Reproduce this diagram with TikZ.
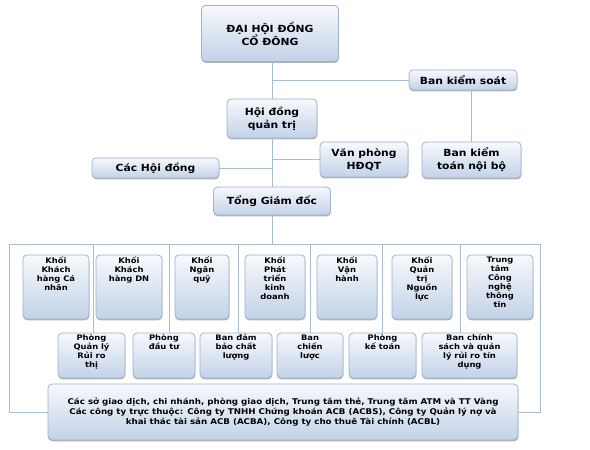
\documentclass[tikz,border=0pt]{standalone}
\usepackage{fontspec}
\setmainfont{DejaVu Sans}[FakeStretch=1.1]
\usetikzlibrary{shadows}
\definecolor{boxtop}{HTML}{F7F9FC}
\definecolor{boxbot}{HTML}{C2D2E8}
\definecolor{boxline}{HTML}{9DB2D0}
\definecolor{conn}{HTML}{A8BCD9}
\newcommand{\topbox}[3]{\parbox[c][#1][t]{#2}{\centering\vspace*{1.5pt}#3}}
\tikzset{
  bx/.style={rounded corners=4pt, draw=boxline, line width=0.8pt,
    top color=boxtop, bottom color=boxbot, inner sep=0pt,
    drop shadow={shadow xshift=0.3pt, shadow yshift=-1.3pt, fill=black!50, opacity=0.6},
    font=\bfseries, align=center},
  bigtxt/.style={font=\fontsize{9.8}{13}\selectfont\bfseries},
  smalltxt/.style={font=\fontsize{7.6}{9}\selectfont\bfseries},
  cn/.style={draw=conn, line width=0.9pt}
}
\begin{document}
\begin{tikzpicture}[x=1pt,y=-1pt]
\useasboundingbox[fill=white] (0,0) rectangle (590,450);
% top part
\node[bx,bigtxt,minimum width=137pt,minimum height=56pt] (dh) at (270,33.5) {ĐẠI HỘI ĐỒNG\\CỔ ĐÔNG};
\node[bx,bigtxt,minimum width=90pt,minimum height=39pt] (hd) at (272,118.5) {Hội đồng\\quản trị};
\node[bx,bigtxt,minimum width=108pt,minimum height=20pt] (bks) at (463,80) {Ban kiểm soát};
\node[bx,bigtxt,minimum width=99pt,minimum height=36pt] (bkt) at (471.5,160) {Ban kiểm\\toán nội bộ};
\node[bx,bigtxt,minimum width=88pt,minimum height=35pt] (vp) at (364,159.5) {Văn phòng\\HĐQT};
\node[bx,bigtxt,minimum width=127pt,minimum height=20pt] (chd) at (155.5,168) {Các Hội đồng};
\node[bx,bigtxt,minimum width=117pt,minimum height=28pt] (tgd) at (272,201) {Tổng Giám đốc};
% bus coordinates
\coordinate (bus) at (272,244);
\coordinate (bl) at (9,244);
\coordinate (br) at (540,244);
\coordinate (b1) at (93,244);
\coordinate (b2) at (169,244);
\coordinate (b3) at (238,244);
\coordinate (b4) at (310,244);
\coordinate (b5) at (382,244);
\coordinate (b6) at (460,244);
% connectors (drawn before the lower boxes)
\draw[cn] (dh.south -| hd.north) -- (hd.north);
\draw[cn] (bks.west) -- (bks.west -| hd.north);
\draw[cn] (bkt.north) -- (bkt.north |- bks.south);
\draw[cn] (vp.west) -- (vp.west -| hd.south);
\draw[cn] (chd.east) -- (chd.east -| hd.south);
\draw[cn] (hd.south) -- (tgd.north);
\draw[cn] (tgd.south) -- (bus);
\draw[cn] (bl) -- (br);
% second-level boxes
\node[bx,smalltxt,minimum width=66pt,minimum height=64pt] (k1) at (56,287) {\topbox{64pt}{64pt}{Khối\\Khách\\hàng Cá\\nhân}};
\node[bx,smalltxt,minimum width=66pt,minimum height=64pt] (k2) at (129,287) {\topbox{64pt}{64pt}{Khối\\Khách\\hàng DN}};
\node[bx,smalltxt,minimum width=54pt,minimum height=64pt] (k3) at (202,287) {\topbox{64pt}{52pt}{Khối\\Ngân\\quỹ}};
\node[bx,smalltxt,minimum width=60pt,minimum height=64pt] (k4) at (275,287) {\topbox{64pt}{58pt}{Khối\\Phát\\triển\\kinh\\doanh}};
\node[bx,smalltxt,minimum width=60pt,minimum height=64pt] (k5) at (347,287) {\topbox{64pt}{58pt}{Khối\\Vận\\hành}};
\node[bx,smalltxt,minimum width=60pt,minimum height=64pt] (k6) at (422,287) {\topbox{64pt}{58pt}{Khối\\Quản\\trị\\Nguồn\\lực}};
\node[bx,smalltxt,minimum width=66pt,minimum height=64pt] (k7) at (500,287) {\topbox{64pt}{64pt}{Trung\\tâm\\Công\\nghệ\\thông\\tin}};
% third row
\node[bx,smalltxt,minimum width=67pt,minimum height=45pt] (p1) at (91.5,355.5) {\topbox{45pt}{65pt}{Phòng\\Quản lý\\Rủi ro\\thị}};
\node[bx,smalltxt,minimum width=62pt,minimum height=45pt] (p2) at (164,355.5) {\topbox{45pt}{60pt}{Phòng\\đầu tư}};
\node[bx,smalltxt,minimum width=72pt,minimum height=45pt] (p3) at (236,355.5) {\topbox{45pt}{70pt}{Ban đảm\\bảo chất\\lượng}};
\node[bx,smalltxt,minimum width=66pt,minimum height=45pt] (p4) at (310,355.5) {\topbox{45pt}{64pt}{Ban\\chiến\\lược}};
\node[bx,smalltxt,minimum width=67pt,minimum height=45pt] (p5) at (382.5,355.5) {\topbox{45pt}{65pt}{Phòng\\kế toán}};
\node[bx,smalltxt,minimum width=95pt,minimum height=45pt] (p6) at (469.5,355.5) {\topbox{45pt}{93pt}{Ban chính\\sách và quản\\lý rủi ro tín\\dụng}};
% bottom box
\node[bx,font=\fontsize{7.9}{10}\selectfont\bfseries,minimum width=470pt,minimum height=56pt] (bot) at (283,412) {Các sở giao dịch, chi nhánh, phòng giao dịch, Trung tâm thẻ, Trung tâm ATM và TT Vàng\\Các công ty trực thuộc: Công ty TNHH Chứng khoán ACB (ACBS), Công ty Quản lý nợ và\\khai thác tài sản ACB (ACBA), Công ty cho thuê Tài chính (ACBL)};
% drops from bus
\draw[cn] (b1) -- (b1 |- p1.north);
\draw[cn] (b2) -- (b2 |- p2.north);
\draw[cn] (b3) -- (b3 |- p3.north);
\draw[cn] (b4) -- (b4 |- p4.north);
\draw[cn] (b5) -- (b5 |- p5.north);
\draw[cn] (b6) -- (b6 |- p6.north);
\draw[cn] (bl) |- (bot.west);
\draw[cn] (br) |- (bot.east);
\end{tikzpicture}
\end{document}
